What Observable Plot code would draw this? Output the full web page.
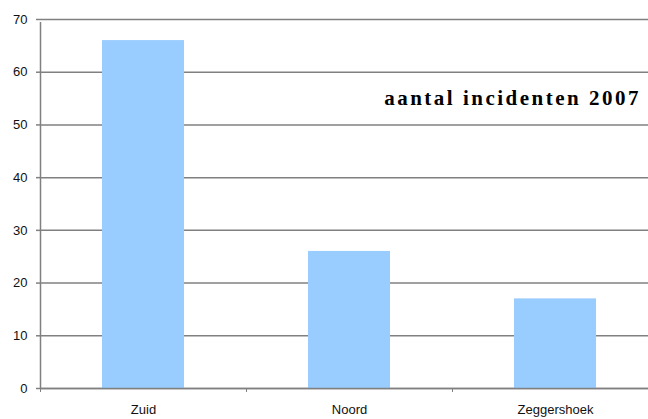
<!DOCTYPE html>
<html>
<head>
<meta charset="utf-8">
<script src="https://cdn.jsdelivr.net/npm/d3@7"></script>
<script src="https://cdn.jsdelivr.net/npm/@observablehq/plot@0.6"></script>
<style>
  html, body { margin: 0; padding: 0; background: #fff; }
  #wrap { position: relative; width: 648px; height: 419px; overflow: hidden; }
  #title { position: absolute; right: 7px; top: 88px; font-family: "Liberation Serif", "Times New Roman", serif; font-weight: bold; font-size: 21px; letter-spacing: 2.5px; color: #000; white-space: nowrap; line-height: 1; }
</style>
</head>
<body>
<div id="wrap"><div id="title">aantal incidenten 2007</div></div>
<script>
const categories = ["Zuid", "Noord", "Zeggershoek"];
const values = [66, 26, 17];
const yTicks = [0, 10, 20, 30, 40, 50, 60, 70];
const titleText = "aantal incidenten 2007";

const data = categories.map((c, i) => ({ category: c, value: values[i] }));

const W = 648, H = 419, mL = 40, mR = 0, mT = 19, mB = 31;
const step = 206;
const xRange = [mL, mL + step * categories.length];

const chart = Plot.plot({
  width: W,
  height: H,
  marginLeft: mL,
  marginRight: mR,
  marginTop: mT,
  marginBottom: mB,
  style: { fontFamily: "Arial, 'Liberation Sans', sans-serif", fontSize: "13px", color: "#111", background: "#fff", overflow: "hidden" },
  x: { type: "band", domain: categories, range: xRange, paddingInner: 0.6, paddingOuter: 0.3, label: null, axis: null },
  y: { type: "linear", domain: [0, 70], label: null, axis: null },
  marks: [
    Plot.ruleY(yTicks, { y: d => d, x1: () => categories[0], x2: () => categories[2], dx: 0, stroke: "none" }),
    Plot.ruleY(yTicks, { y: d => d, stroke: "#808080", strokeWidth: 1.5 }),
    Plot.barY(data, { x: "category", y: "value", fill: "#99ccff" }),
    Plot.ruleY([0], { y: d => d, stroke: "#808080", strokeWidth: 1.5 }),
    Plot.ruleX(categories, { x: d => d, dx: -step / 2, y1: 0, y2: 0, insetBottom: -4, stroke: "#808080", strokeWidth: 1 }),
    Plot.ruleX([categories[0]], { x: d => d, dx: -step / 2, y1: 0, y2: 70, insetBottom: -3, stroke: "#808080", strokeWidth: 1.5 }),
    Plot.axisY(yTicks, { tickSize: 4, tickPadding: 9, stroke: "#808080", strokeWidth: 1.5, fontSize: 13, fill: "#111" }),
    Plot.axisX(categories, { tickSize: 0, tickPadding: 16, fontSize: 13, fill: "#111" })
  ]
});

document.getElementById("wrap").prepend(chart);
document.getElementById("title").textContent = titleText;
</script>
</body>
</html>
